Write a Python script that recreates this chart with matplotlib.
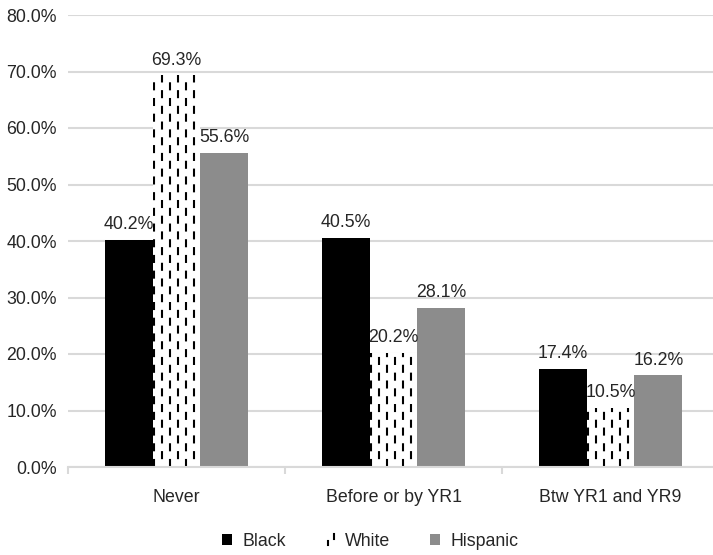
import matplotlib
matplotlib.use("Agg")
import matplotlib.pyplot as plt
import numpy as np
from matplotlib.legend_handler import HandlerBase
from matplotlib.lines import Line2D
from matplotlib.patches import Patch

plt.rcParams['font.family'] = ['Liberation Sans', 'DejaVu Sans']
plt.rcParams['lines.scale_dashes'] = False

categories = ["Never", "Before or by YR1", "Btw YR1 and YR9"]
series_names = ["Black", "White", "Hispanic"]
black = [40.2, 40.5, 17.4]
white = [69.3, 20.2, 10.5]
hispanic = [55.6, 28.1, 16.2]
y_ticks = [0, 10, 20, 30, 40, 50, 60, 70, 80]

FS = 12.8

fig = plt.figure(figsize=(7.13, 5.55), dpi=100)
ax = fig.add_axes([68 / 713, 1 - 467 / 555, (719 - 68) / 713, (467 - 15) / 555])

x = np.arange(len(categories))
w = 0.221
text_color = "#262626"
grid_color = "#d9d9d9"

bars_b = ax.bar(x - w, black, w, color="black", zorder=3)
bars_w = ax.bar(x, white, w, color="white", zorder=3)
bars_h = ax.bar(x + w, hispanic, w, color="#8c8c8c", zorder=3)

# dashed vertical pattern for the White series
dash_on, dash_off = 5.8, 5.5
for patch in bars_w:
    x0 = patch.get_x()
    bw = patch.get_width()
    h = patch.get_height()
    ncol = 6
    step = bw / ncol
    for i in range(ncol):
        xc = x0 + bw * 0.03 + step * i
        off = 0 if i % 2 == 0 else (dash_on + dash_off) / 2
        ln = ax.vlines(xc, 0, h, colors="black", linewidth=1.5,
                       linestyles=[(off, (dash_on, dash_off))], zorder=4)
        ln.set_clip_path(patch)

for bars, vals in ((bars_b, black), (bars_w, white), (bars_h, hispanic)):
    for patch, v in zip(bars, vals):
        ax.annotate(f"{v:.1f}%", (patch.get_x() + patch.get_width() / 2, v),
                    xytext=(0, 5), textcoords="offset points",
                    ha="center", va="bottom", fontsize=FS, color=text_color, zorder=5)

ax.set_ylim(0, 80)
ax.set_xlim(-0.5, 2.5)
ax.set_yticks(y_ticks)
ax.set_yticklabels([f"{t:.1f}%" for t in y_ticks])
ax.yaxis.grid(True, color=grid_color, linewidth=1.5, zorder=0)
ax.set_axisbelow(True)
for s in ("top", "right", "left"):
    ax.spines[s].set_visible(False)
ax.spines["bottom"].set_color(grid_color)
ax.spines["bottom"].set_linewidth(1.5)
ax.spines["bottom"].set_zorder(6)

ax.set_xticks(x)
ax.set_xticklabels(categories)
ax.set_xticks([-0.5, 0.5, 1.5, 2.5], minor=True)
ax.tick_params(axis="x", which="major", length=0, pad=16, labelsize=FS, labelcolor=text_color)
ax.tick_params(axis="x", which="minor", length=5, width=1.5, color=grid_color)
ax.tick_params(axis="y", length=0, pad=8, labelsize=FS, labelcolor=text_color)


class DashHandler(HandlerBase):
    def create_artists(self, legend, orig_handle, xdescent, ydescent,
                       width, height, fontsize, trans):
        arts = []
        xs = [width * 0.3, width * 0.9]
        ys = [(0.0, 0.35 * height), (0.55 * height, 1.0 * height)]
        for xx, (y0, y1) in zip(xs, ys):
            ln = Line2D([xx - xdescent, xx - xdescent], [y0 - ydescent, y1 - ydescent],
                        color="black", linewidth=1.5, transform=trans)
            arts.append(ln)
        return arts


h_black = Patch(facecolor="black")
h_white = Patch(facecolor="white")
h_hisp = Patch(facecolor="#8c8c8c")
fig.legend([h_black, h_white, h_hisp], series_names, loc="center",
           bbox_to_anchor=(0.519, 0.0243), ncol=3, frameon=False, fontsize=FS,
           handlelength=0.55, handleheight=0.6, handletextpad=0.6,
           columnspacing=2.2, labelcolor=text_color, borderpad=0,
           handler_map={h_white: DashHandler()})

fig.savefig("out.png", dpi=100)
